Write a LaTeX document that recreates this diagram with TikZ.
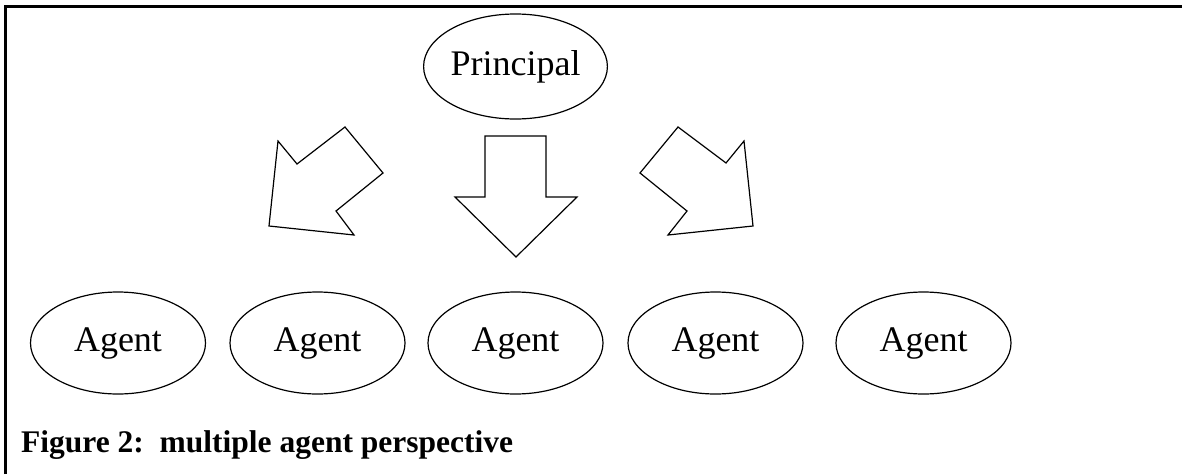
\documentclass[tikz,border=0pt]{standalone}
\usepackage{fontspec}
\setmainfont{Liberation Serif}
\usetikzlibrary{shapes.geometric}

\begin{document}
\begin{tikzpicture}[
    x=1pt, y=-1pt,
    party/.style={ellipse, draw, line width=1.2pt, inner sep=0pt, minimum width=175pt, font=\fontsize{36}{40}\selectfont},
    blockarrow/.style={draw, line width=1.2pt, line join=miter, fill=white},
    frame/.style={draw, line width=2.2pt}
]
\useasboundingbox (0,0) rectangle (1182,474);

% Frame (top and left edges)
\draw[frame] (5.5,474) -- (5.5,6.5) -- (1182,6.5);

% Principal and agents
\node[party, minimum height=105pt] (P) at (515.5,66.5) {Principal};
\node[party, minimum height=102pt] (A1) at (118,343) {Agent};
\node[party, minimum height=102pt] (A2) at (317.5,343) {Agent};
\node[party, minimum height=102pt] (A3) at (515.5,343) {Agent};
\node[party, minimum height=102pt] (A4) at (715.5,343) {Agent};
\node[party, minimum height=102pt] (A5) at (923.5,343) {Agent};

% Block arrows
\draw[blockarrow] (278,141) -- (297,164) -- (345,127) -- (383,173) -- (336,211) -- (354,235) -- (269,226) -- cycle;
\draw[blockarrow] (485,136) -- (546,136) -- (546,197) -- (577,197) -- (516,257) -- (455,197) -- (485,197) -- cycle;
\draw[blockarrow] (678,127) -- (726,163) -- (744,141) -- (753,226) -- (668,235) -- (687,211) -- (640,173) -- cycle;

% Caption
\node[anchor=base west, inner sep=0pt, font=\fontsize{31.5}{36}\selectfont\bfseries] (cap) at (21,452) {Figure 2:\ \ multiple agent perspective};

\end{tikzpicture}
\end{document}
